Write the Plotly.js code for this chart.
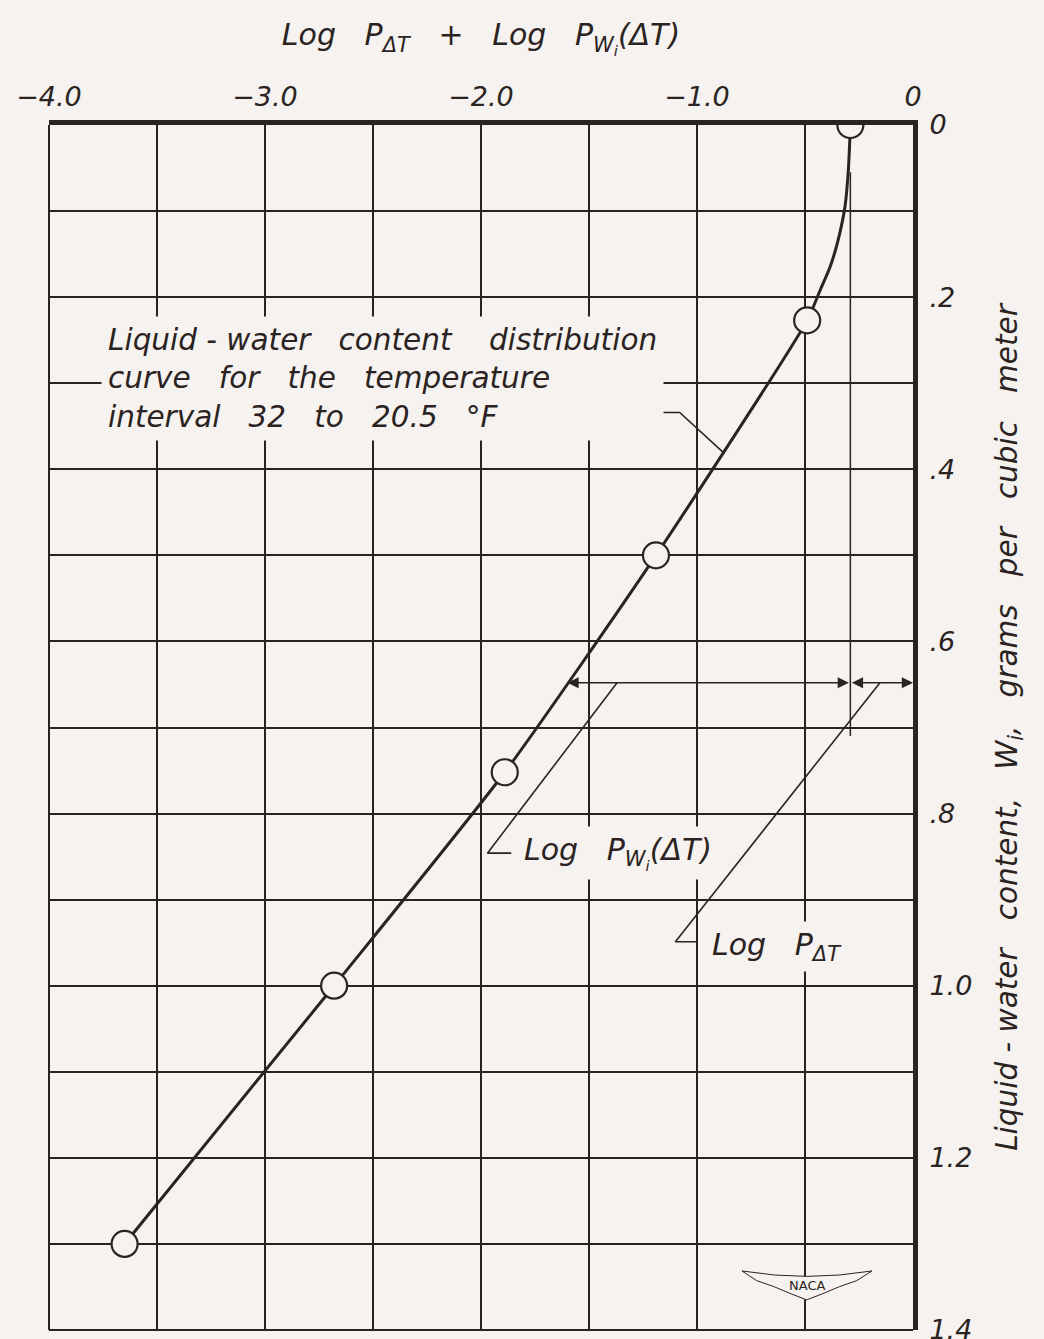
<!DOCTYPE html>
<html>
<head>
<meta charset="utf-8">
<script src="https://cdn.plot.ly/plotly-3.0.1.min.js"></script>
<style>
  html, body { margin: 0; padding: 0; background: #f6f2f0; }
  #chart { width: 1044px; height: 1339px; }
</style>
</head>
<body>
<div id="chart"></div>
<script>
// ---- data ----
const pointX = [-0.29, -0.49, -1.19, -1.89, -2.68, -3.65];
const pointY = [0.0, 0.227, 0.5, 0.752, 1.0, 1.3];

const curveX = [-0.29, -0.292, -0.30, -0.315, -0.347, -0.384, -0.43, -0.49, -1.19, -1.89, -2.68, -3.65];
const curveY = [0.0, 0.014, 0.055, 0.095, 0.134, 0.165, 0.192, 0.227, 0.5, 0.752, 1.0, 1.3];

const xTickVals = [-4.0, -3.5, -3.0, -2.5, -2.0, -1.5, -1.0, -0.5, 0];
const xTickText = ['\u22124.0', '', '\u22123.0', '', '\u22122.0', '', '\u22121.0', '', '0'];
const yTickVals = [0, 0.1, 0.2, 0.3, 0.4, 0.5, 0.6, 0.7, 0.8, 0.9, 1.0, 1.1, 1.2, 1.3, 1.4];
const yTickText = ['0', '', '.2', '', '.4', '', '.6', '', '.8', '', '1.0', '', '1.2', '', '1.4'];

// reference line at log P for W = 0, and the dimension line
const refLineX = [-0.29, -0.29];
const refLineY = [0.055, 0.71];
const dimY = 0.648;
const dimX = [-1.60, -0.29, 0.0];

// leader lines
const curveLeaderX = [-1.68, -1.08, -0.88];
const curveLeaderY = [0.334, 0.334, 0.38];
const pwLeaderX = [-1.86, -1.97, -1.37];
const pwLeaderY = [0.846, 0.846, dimY];
const ptLeaderX = [-1.00, -1.10, -0.153];
const ptLeaderY = [0.949, 0.949, dimY];

// labels
const S = '\u00a0\u00a0\u00a0';
const curveLabel = 'Liquid\u00a0-\u00a0water' + S + 'content' + S + '\u00a0distribution<br>curve' + S + 'for' + S + 'the' + S + 'temperature<br>interval' + S + '32' + S + 'to' + S + '20.5' + S + '\u00b0F';
const pwLabel = 'Log' + S + 'P<sub>W<sub>i</sub></sub>(\u0394T)';
const ptLabel = 'Log' + S + 'P<sub>\u0394T</sub>';
const xTitle = 'Log' + S + 'P<sub>\u0394T</sub>' + S + '+' + S + 'Log' + S + 'P<sub>W<sub>i</sub></sub>(\u0394T)';
const yTitle = 'Liquid\u00a0-\u00a0water' + S + 'content,' + S + 'W<sub>i</sub>,' + S + 'grams' + S + 'per' + S + 'cubic' + S + 'meter';

// ---- styling ----
const ink = '#2a2321';
const paper = '#f6f2f0';
const FONT = 'DejaVu Sans';
const itFont = (size) => ({family: FONT, size: size, color: ink, style: 'italic'});

const traces = [
  {x: refLineX, y: refLineY, mode: 'lines', line: {color: ink, width: 1.5}, hoverinfo: 'skip', showlegend: false},
  {x: curveLeaderX, y: curveLeaderY, mode: 'lines', line: {color: ink, width: 1.6}, hoverinfo: 'skip', showlegend: false},
  {x: pwLeaderX, y: pwLeaderY, mode: 'lines', line: {color: ink, width: 1.6}, hoverinfo: 'skip', showlegend: false},
  {x: ptLeaderX, y: ptLeaderY, mode: 'lines', line: {color: ink, width: 1.6}, hoverinfo: 'skip', showlegend: false},
  {x: curveX, y: curveY, mode: 'lines', line: {color: ink, width: 3, shape: 'spline', smoothing: 0.6}, hoverinfo: 'skip', showlegend: false},
  {x: pointX, y: pointY, mode: 'markers', marker: {symbol: 'circle', size: 26, color: paper, line: {color: ink, width: 2.2}}, showlegend: false}
];

const annotations = [
  // dimension arrows
  {x: dimX[0], y: dimY, ax: dimX[1], ay: dimY, xref: 'x', yref: 'y', axref: 'x', ayref: 'y', text: '', showarrow: true,
   arrowhead: 2, startarrowhead: 2, arrowside: 'end+start', arrowsize: 1.4, startarrowsize: 1.4, arrowwidth: 1.6, arrowcolor: ink},
  {x: dimX[2], y: dimY, ax: dimX[1], ay: dimY, xref: 'x', yref: 'y', axref: 'x', ayref: 'y', text: '', showarrow: true,
   arrowhead: 2, startarrowhead: 2, arrowside: 'end+start', arrowsize: 1.4, startarrowsize: 1.4, arrowwidth: 1.6, arrowcolor: ink},
  // labels
  {x: -3.76, y: 0.294, xref: 'x', yref: 'y', xanchor: 'left', yanchor: 'middle', align: 'left', showarrow: false,
   text: curveLabel, font: itFont(29.5), bgcolor: paper, borderpad: 6},
  {x: -1.83, y: 0.846, xref: 'x', yref: 'y', xanchor: 'left', yanchor: 'middle', align: 'left', showarrow: false,
   text: pwLabel, font: itFont(30), bgcolor: paper, borderpad: 5},
  {x: -0.96, y: 0.955, xref: 'x', yref: 'y', xanchor: 'left', yanchor: 'middle', align: 'left', showarrow: false,
   text: ptLabel, font: itFont(30), bgcolor: paper, borderpad: 5},
  // NACA logo text
  {x: 0.8775, y: 0.037, xref: 'paper', yref: 'paper', xanchor: 'center', yanchor: 'middle', showarrow: false,
   text: 'NACA', font: {family: FONT, size: 13, color: ink}}
];

const shapes = [
  // thin left and bottom frame lines
  {type: 'line', xref: 'paper', yref: 'paper', x0: 0, x1: 0, y0: 0, y1: 1, line: {color: ink, width: 2}},
  {type: 'line', xref: 'paper', yref: 'paper', x0: 0, x1: 1, y0: 0, y1: 0, line: {color: ink, width: 2}},
  // NACA wing outline
  {type: 'path', xref: 'paper', yref: 'paper', layer: 'above',
   path: 'M 0.802 0.049 Q 0.877 0.040 0.9525 0.049 L 0.935 0.041 L 0.915 0.036 L 0.895 0.030 L 0.877 0.025 L 0.859 0.030 L 0.839 0.036 L 0.819 0.041 Z',
   line: {color: ink, width: 1}, fillcolor: paper}
];

const layout = {
  width: 1044, height: 1339,
  paper_bgcolor: paper, plot_bgcolor: paper,
  margin: {l: 49, r: 131, t: 125, b: 9},
  showlegend: false,
  xaxis: {
    side: 'top', range: [-4.0, 0], tickvals: xTickVals, ticktext: xTickText,
    showgrid: true, gridcolor: ink, gridwidth: 2, zeroline: false,
    showline: true, linecolor: ink, linewidth: 5, mirror: false, ticks: '',
    tickfont: itFont(27), ticklabelstandoff: 3, ticklabeloverflow: 'allow',
    title: {text: xTitle, font: itFont(30), standoff: 28}
  },
  yaxis: {
    side: 'right', range: [1.4, 0], tickvals: yTickVals, ticktext: yTickText,
    showgrid: true, gridcolor: ink, gridwidth: 2, zeroline: false,
    showline: true, linecolor: ink, linewidth: 5, mirror: false, ticks: '',
    tickfont: itFont(27), ticklabelstandoff: 6, ticklabeloverflow: 'allow',
    title: {text: yTitle, font: itFont(29.5), standoff: 26}
  },
  annotations: annotations,
  shapes: shapes
};

Plotly.newPlot('chart', traces, layout, {staticPlot: true});
</script>
</body>
</html>
